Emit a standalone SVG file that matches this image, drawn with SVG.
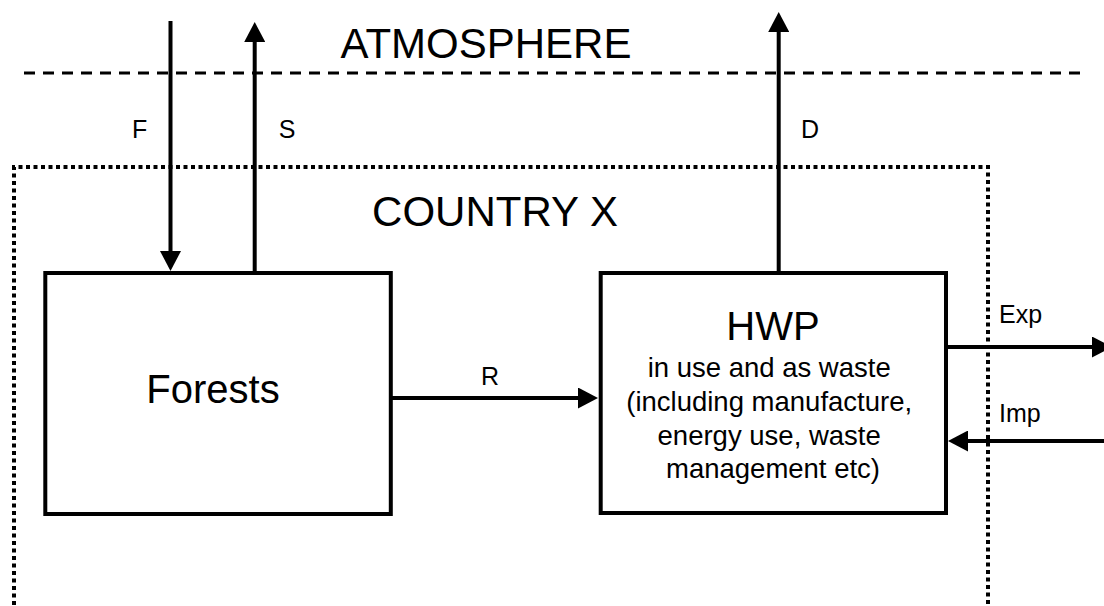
<svg xmlns="http://www.w3.org/2000/svg" width="1104" height="606" viewBox="0 0 1104 606">
  <style>
    text { font-family: "Liberation Sans", Arial, sans-serif; fill: #000; }
    .big { font-size: 42px; }
    .node { font-size: 40px; }
    .sub { font-size: 27.5px; }
    .lbl { font-size: 25px; }
    .box { fill: #fff; stroke: #000; stroke-width: 4; }
    .flow { stroke: #000; stroke-width: 4; fill: none; marker-end: url(#arrow); }
  </style>
  <defs>
    <marker id="arrow" markerUnits="userSpaceOnUse" markerWidth="20" markerHeight="21" refX="2" refY="10.5" orient="auto">
      <path d="M0,0 L20,10.5 L0,21 Z" fill="#000"/>
    </marker>
  </defs>
  <rect width="1104" height="606" fill="#fff"/>

  <g id="atmosphere">
    <line x1="24" y1="73" x2="1081" y2="73" stroke="#000" stroke-width="3" stroke-dasharray="11 8"/>
    <text class="big" x="486" y="58" text-anchor="middle">ATMOSPHERE</text>
  </g>

  <g id="country">
    <path d="M14,620 L14,167 L988,167 L988,620" fill="none" stroke="#000" stroke-width="4" stroke-dasharray="4 3.5"/>
    <text class="big" x="495" y="226" text-anchor="middle">COUNTRY X</text>
  </g>

  <g id="forests">
    <rect class="box" x="45.3" y="273" width="345.5" height="241"/>
    <text class="node" x="213" y="403" text-anchor="middle">Forests</text>
  </g>

  <g id="hwp">
    <rect class="box" x="600.7" y="273" width="345.3" height="240"/>
    <text class="node" x="773" y="340" text-anchor="middle">HWP</text>
    <text class="sub" text-anchor="middle">
      <tspan x="773" y="377">in use and as waste</tspan>
      <tspan x="773" y="411">(including manufacture,</tspan>
      <tspan x="773" y="444.5">energy use, waste</tspan>
      <tspan x="773" y="478">management etc)</tspan>
    </text>
  </g>

  <g id="connectors">
    <line class="flow" x1="170.5" y1="21" x2="170.5" y2="253"/>
    <line class="flow" x1="254.7" y1="271" x2="254.7" y2="40"/>
    <line class="flow" x1="778.7" y1="271" x2="778.7" y2="30"/>
    <line class="flow" x1="392" y1="398" x2="580" y2="398"/>
    <line class="flow" x1="946" y1="347" x2="1094" y2="347"/>
    <line class="flow" x1="1110" y1="441" x2="966" y2="441"/>
    <text class="lbl" x="139.7" y="138" text-anchor="middle">F</text>
    <text class="lbl" x="287" y="138" text-anchor="middle">S</text>
    <text class="lbl" x="810" y="138" text-anchor="middle">D</text>
    <text class="lbl" x="490" y="385" text-anchor="middle">R</text>
    <text class="lbl" x="999" y="322.7">Exp</text>
    <text class="lbl" x="999" y="421.7">Imp</text>
  </g>
</svg>
